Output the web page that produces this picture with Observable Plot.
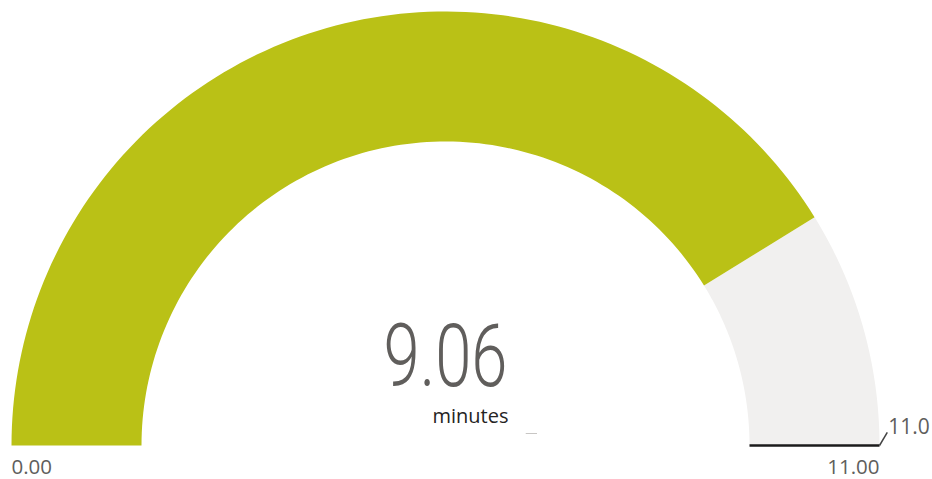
<!DOCTYPE html>
<html>
<head>
<meta charset="utf-8">
<script src="https://cdn.jsdelivr.net/npm/d3@7"></script>
<script src="https://cdn.jsdelivr.net/npm/@observablehq/plot@0.6"></script>
<style>
  html, body { margin: 0; padding: 0; background: #ffffff; }
  #chart svg { display: block; }
</style>
</head>
<body>
<div id="chart"></div>
<script>
// ---- data ----
const minValue = 0;
const maxValue = 11;
const gaugeValue = 9.06;
const targetValue = 11;
const valueLabel = "9.06";
const unitLabel = "minutes";
const minLabel = "0.00";
const maxLabel = "11.00";
const targetLabel = "11.0";

// ---- geometry helpers (unit circle coordinates) ----
const W = 932, H = 479;
const R = 434;             // outer radius in px
const cx = 445, cy = 445;  // center in px
const innerRatio = 304 / 434;
const fillColor = "#BAC116";
const trackColor = "#F1F0EF";

const angle = v => Math.PI * (1 - (v - minValue) / (maxValue - minValue));
function band(v0, v1) {
  const n = 120, pts = [];
  for (let i = 0; i <= n; i++) {
    const a = angle(v0 + (v1 - v0) * i / n);
    pts.push({x: Math.cos(a), y: Math.sin(a)});
  }
  for (let i = n; i >= 0; i--) {
    const a = angle(v0 + (v1 - v0) * i / n);
    pts.push({x: innerRatio * Math.cos(a), y: innerRatio * Math.sin(a)});
  }
  return pts;
}
const track = band(gaugeValue, maxValue);
const filled = band(minValue, gaugeValue);
const ta = angle(targetValue);
const targetLine = [{x1: innerRatio * Math.cos(ta), y1: innerRatio * Math.sin(ta), x2: Math.cos(ta), y2: Math.sin(ta)}];
const leader = [{x1: Math.cos(ta), y1: Math.sin(ta), x2: Math.cos(ta) + 0.018, y2: Math.sin(ta) + 0.03}];
const labelFont = "Open Sans, sans-serif";

const chart = Plot.plot({
  width: W,
  height: H,
  margin: 0,
  x: {domain: [-cx / R, (W - cx) / R], range: [0, W], axis: null},
  y: {domain: [-(H - cy) / R, cy / R], range: [H, 0], axis: null},
  marks: [
    Plot.line(track, {x: "x", y: "y", fill: trackColor, stroke: "none"}),
    Plot.line(filled, {x: "x", y: "y", fill: fillColor, stroke: "none"}),
    Plot.link(targetLine, {x1: "x1", y1: "y1", x2: "x2", y2: "y2", stroke: "#1b1b1b", strokeWidth: 2.5}),
    Plot.link(leader, {x1: "x1", y1: "y1", x2: "x2", y2: "y2", stroke: "#444", strokeWidth: 1.5}),
    Plot.text([targetLabel], {x: leader[0].x2, y: leader[0].y2, text: d => d, textAnchor: "start", lineAnchor: "bottom", dx: 1, dy: 2, fontSize: 21, fill: "#605E5C", fontFamily: labelFont}),
    Plot.text([minLabel], {x: Math.cos(angle(minValue)), y: 0, text: d => d, textAnchor: "start", lineAnchor: "bottom", dx: 0, dy: 28, fontSize: 20.5, fill: "#605E5C", fontFamily: labelFont}),
    Plot.text([maxLabel], {x: Math.cos(angle(maxValue)), y: 0, text: d => d, textAnchor: "end", lineAnchor: "bottom", dx: 0, dy: 28, fontSize: 20.5, fill: "#605E5C", fontFamily: labelFont}),
    Plot.text([valueLabel], {x: 0, y: 0, text: d => d, textAnchor: "middle", lineAnchor: "bottom", dy: -60, fontSize: 87, fontWeight: 300, fill: "#605E5C", fontFamily: "Roboto, sans-serif", className: "bigval"}),
    Plot.text([unitLabel], {x: 0, y: 0, text: d => d, textAnchor: "middle", lineAnchor: "bottom", dx: 25, dy: -23, fontSize: 20, fontWeight: 500, fill: "#252423", fontFamily: labelFont}),
    Plot.ruleY([0], {x1: 0.186, x2: 0.212, dy: -12, stroke: "#c8c6c4", strokeWidth: 1})
  ]
});
d3.select(chart).selectAll(".bigval text").attr("textLength", 124).attr("lengthAdjust", "spacingAndGlyphs");
document.getElementById("chart").appendChild(chart);
</script>
</body>
</html>
